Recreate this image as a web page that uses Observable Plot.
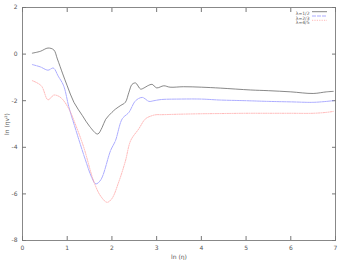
<!DOCTYPE html>
<html><head><meta charset="utf-8">
<script src="https://cdn.jsdelivr.net/npm/d3@7"></script>
<script src="https://cdn.jsdelivr.net/npm/@observablehq/plot@0.6"></script>
<style>body{margin:0;background:#fff}svg{font-family:"DejaVu Sans",sans-serif}</style>
</head><body><div id="chart"></div>
<script>
const labels = ["λ=1/2", "λ=2/3", "λ=4/5"];
const colors = ["#555555", "#8888ff", "#ff9999"];
const dashes = ["none", "4,1", "1.2,1.2"];

const x12 = [0.22,0.4,0.57,0.7,0.78,0.9,1.0,1.15,1.34,1.5,1.68,1.78,1.86,2.0,2.08,2.2,2.3,2.38,2.45,2.53,2.64,2.72,2.8,2.90,3.0,3.16,3.3,3.6,4.0,4.43,5.1,5.5,6.0,6.5,6.8,6.95];
const y12 = [0.04,0.12,0.26,0.18,-0.21,-0.85,-1.36,-2.07,-2.64,-3.1,-3.43,-3.15,-2.8,-2.5,-2.36,-2.2,-2.07,-1.64,-1.3,-1.24,-1.5,-1.45,-1.36,-1.3,-1.45,-1.36,-1.42,-1.40,-1.42,-1.46,-1.54,-1.57,-1.62,-1.69,-1.62,-1.60];

const x23 = [0.22,0.4,0.57,0.69,0.8,0.92,1.04,1.2,1.4,1.55,1.64,1.75,1.97,2.08,2.23,2.38,2.53,2.68,2.83,2.94,3.1,3.5,4.0,4.4,5.0,5.5,6.0,6.5,6.8,6.95];
const y23 = [-0.45,-0.55,-0.69,-0.6,-0.95,-1.36,-2.29,-3.3,-4.5,-5.3,-5.57,-5.4,-4.14,-3.71,-2.78,-2.5,-2.0,-1.86,-2.03,-2.0,-1.95,-1.93,-1.93,-1.97,-2.0,-2.03,-2.05,-2.07,-2.03,-2.0];

const x45 = [0.22,0.42,0.57,0.70,0.8,0.89,1.04,1.2,1.37,1.6,1.75,1.89,2.0,2.15,2.3,2.42,2.6,2.75,2.9,3.0,3.1,3.5,4.0,4.5,5.0,5.5,6.0,6.5,6.8,6.95];
const y45 = [-1.14,-1.36,-1.96,-1.76,-1.8,-1.93,-2.36,-3.1,-4.0,-5.5,-6.1,-6.36,-6.2,-5.5,-4.6,-3.71,-3.21,-2.78,-2.64,-2.6,-2.6,-2.58,-2.56,-2.55,-2.54,-2.54,-2.54,-2.54,-2.5,-2.46];

const xTicks = [0,1,2,3,4,5,6,7];
const yTicks = [-8,-6,-4,-2,0,2];
const xLabel = "ln (η)";
const yLabel = "ln (ηv²)";

const seriesX = [x12, x23, x45];
const seriesY = [y12, y23, y45];
const data = seriesX.map((xs, i) => xs.map((x, j) => ({x, y: seriesY[i][j], s: i})));

const axisStyle = {stroke: "#777", color: "#555", fill: "#555", fontSize: 6};
const plot = Plot.plot({
  width: 346, height: 260,
  marginLeft: 22, marginRight: 11, marginTop: 7, marginBottom: 20,
  style: {fontSize: "6px", color: "#555", background: "#fff"},
  x: {domain: [0, 7]},
  y: {domain: [-8, 2]},
  marks: [
    Plot.frame({stroke: "#888", strokeWidth: 1}),
    Plot.axisX({anchor: "bottom", ticks: xTicks, tickSize: -4, tickPadding: 9, tickFormat: d => String(d), label: xLabel, labelAnchor: "center", labelArrow: "none", labelOffset: 18, ...axisStyle}),
    Plot.axisX({anchor: "top", ticks: xTicks, tickSize: -4, tickFormat: () => "", label: null, ...axisStyle}),
    Plot.axisY({anchor: "left", ticks: yTicks, tickSize: -4, tickPadding: 9, tickFormat: d => String(d), label: yLabel, labelAnchor: "center", labelArrow: "none", labelOffset: 18, ...axisStyle}),
    Plot.axisY({anchor: "right", ticks: yTicks, tickSize: -4, tickFormat: () => "", label: null, ...axisStyle}),
    ...data.map((d, i) => Plot.line(d, {x: "x", y: "y", stroke: colors[i], strokeWidth: 0.7, strokeDasharray: dashes[i], curve: "catmull-rom"})),
    ...labels.map((l, i) => Plot.text([l], {frameAnchor: "top-right", dx: -26, dy: 4.7 + i * 4.3, text: d => d, textAnchor: "end", fontSize: 4.5, fill: "#555"}))
  ]
});
document.getElementById("chart").appendChild(plot);

// legend sample lines (layout only, positioned from the plot's x/y ranges)
const svgSel = d3.select(plot);
const xr = plot.scale("x").range, yr = plot.scale("y").range;
const frameRight = xr[1], frameTop = Math.min(yr[0], yr[1]);
labels.forEach((l, i) => {
  svgSel.append("line")
    .attr("x1", frameRight - 23).attr("x2", frameRight - 8)
    .attr("y1", frameTop + 4.7 + i * 4.3).attr("y2", frameTop + 4.7 + i * 4.3)
    .attr("stroke", colors[i]).attr("stroke-width", 0.7)
    .attr("stroke-dasharray", dashes[i]);
});
</script></body></html>
